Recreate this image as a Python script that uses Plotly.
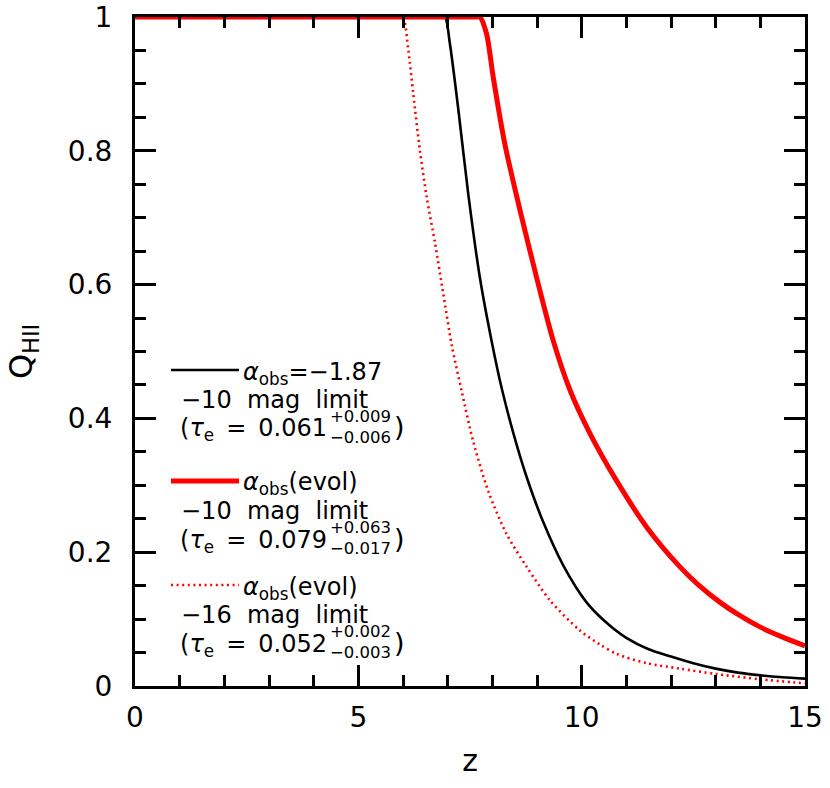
import plotly.graph_objects as go

# redshift / ionized fraction
z_black = [0, 6.5, 6.85, 6.94, 7.05, 7.24, 7.46, 7.72, 7.98, 8.21, 8.47, 8.77, 9.14, 9.59,
           10.11, 10.5, 11.0, 11.5, 12.0, 12.5, 13.0, 13.5, 14.0, 14.5, 15.0]
q_black = [1, 1, 1, 1, 0.96, 0.861, 0.736, 0.611, 0.517, 0.445, 0.378, 0.312, 0.245, 0.180,
           0.125, 0.098, 0.072, 0.055, 0.044, 0.034, 0.026, 0.020, 0.016, 0.013, 0.011]

z_red = [0, 7.3, 7.62, 7.72, 7.87, 8.02, 8.28, 8.62, 8.99, 9.36, 9.74, 10.19, 10.78, 11.46,
         12.2, 12.6, 13.1, 13.5, 14.0, 14.5, 15.0]
q_red = [1, 1, 1, 1, 0.975, 0.91, 0.81, 0.711, 0.611, 0.517, 0.442, 0.377, 0.307, 0.237,
         0.178, 0.152, 0.125, 0.107, 0.088, 0.073, 0.060]

z_dot = [0, 5.6, 5.92, 6.0, 6.12, 6.23, 6.38, 6.53, 6.72, 6.90, 7.09, 7.31, 7.57, 7.91, 8.32,
         8.77, 9.29, 9.96, 10.41, 10.78, 11.46, 12.2, 13.0, 14.0, 15.0]
q_dot = [1, 1, 1, 1, 0.95, 0.885, 0.80, 0.731, 0.661, 0.587, 0.51, 0.442, 0.366, 0.291, 0.227,
         0.178, 0.128, 0.083, 0.062, 0.048, 0.034, 0.026, 0.018, 0.010, 0.004]

legend_alpha = ["<i>α</i><sub>obs</sub>=−1.87", "<i>α</i><sub>obs</sub>(evol)",
                "<i>α</i><sub>obs</sub>(evol)"]
legend_mag = ["−10\u00a0\u00a0mag\u00a0\u00a0limit", "−10\u00a0\u00a0mag\u00a0\u00a0limit",
              "−16\u00a0\u00a0mag\u00a0\u00a0limit"]
tau_vals = ["0.061", "0.079", "0.052"]
tau_up = ["+0.009", "+0.063", "+0.002"]
tau_lo = ["−0.006", "−0.017", "−0.003"]

FONT = "DejaVu Sans"
W, H = 830, 788
L, R, T, B = 135, 805, 17, 686   # plot box in pixels


def px(x):
    return (x - L) / (R - L)


def py(y):
    return (B - y) / (B - T)


fig = go.Figure()
fig.add_trace(go.Scatter(x=z_dot, y=q_dot, mode="lines",
                         line=dict(color="#ff0000", width=2.6, dash="2px,3.6px",
                                   shape="spline", smoothing=0.8)))
fig.add_trace(go.Scatter(x=z_black, y=q_black, mode="lines",
                         line=dict(color="black", width=2.6, shape="spline", smoothing=0.8)))
fig.add_trace(go.Scatter(x=z_red, y=q_red, mode="lines",
                         line=dict(color="#ff0000", width=5, shape="spline", smoothing=0.8)))

# hand-made legend
line_y = [370, 481, 585]
line_styles = [dict(color="black", width=2.6),
               dict(color="#ff0000", width=5),
               dict(color="#ff0000", width=2.6, dash="2px,3.6px")]
for i in range(3):
    y0 = line_y[i]
    fig.add_shape(type="line", xref="paper", yref="paper",
                  x0=px(171), x1=px(239), y0=py(y0), y1=py(y0), line=line_styles[i])
    anns = [
        dict(x=px(242), y=py(y0 + 3), text=legend_alpha[i], xanchor="left", size=24),
        dict(x=px(180), y=py(y0 + 30), text=legend_mag[i], xanchor="left", size=24),
        dict(x=px(328), y=py(y0 + 60), text="(<i>τ</i><sub>e</sub>\u2002=\u2002" + tau_vals[i],
             xanchor="right", size=24),
        dict(x=px(329), y=py(y0 + 57), text=tau_up[i] + "<br>" + tau_lo[i], xanchor="left", size=16.5),
        dict(x=px(393), y=py(y0 + 57), text=")", xanchor="left", size=27),
    ]
    for a in anns:
        fig.add_annotation(x=a["x"], y=a["y"], xref="paper", yref="paper", text=a["text"],
                           xanchor=a["xanchor"], yanchor="middle", showarrow=False, borderpad=0,
                           font=dict(family=FONT, size=a["size"], color="black"))

axis_common = dict(
    ticks="inside", ticklen=21, tickwidth=2.5, tickcolor="black",
    showline=True, linewidth=3, linecolor="black", mirror="ticks",
    showgrid=False, zeroline=False, automargin=False, ticklabeloverflow="allow",
    tickfont=dict(family=FONT, size=28, color="black"),
)

fig.update_layout(
    width=W, height=H, autosize=False,
    margin=dict(l=L, r=W - R, t=T, b=H - B),
    plot_bgcolor="white", paper_bgcolor="white",
    showlegend=False,
    font=dict(family=FONT, color="black"),
)
fig.update_xaxes(
    range=[0, 15], tick0=0, dtick=5,
    minor=dict(dtick=1, ticks="inside", ticklen=11, tickwidth=2.5, tickcolor="black"),
    ticklabelstandoff=4,
    title=dict(text="z", font=dict(family=FONT, size=30), standoff=18),
    **axis_common,
)
fig.update_yaxes(
    range=[0, 1], tick0=0, dtick=0.2,
    minor=dict(dtick=0.05, ticks="inside", ticklen=11, tickwidth=2.5, tickcolor="black"),
    ticklabelstandoff=14,
    title=dict(text="Q<sub>HII</sub>", font=dict(family=FONT, size=32), standoff=26),
    **axis_common,
)

# drop the default 8px body margin so the figure sits at the page corner
fig.write_html("out.html", config={"displayModeBar": False},
               post_script="document.body.style.margin = '0';")
